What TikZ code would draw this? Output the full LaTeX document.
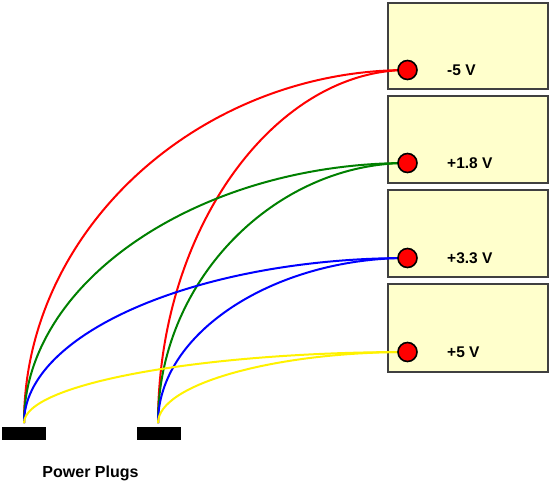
\documentclass[tikz,border=0pt]{standalone}
\usepackage{fontspec}
\setmainfont{Liberation Sans}
\definecolor{wgreen}{RGB}{0,128,0}
\definecolor{panelfill}{RGB}{255,255,204}
\definecolor{paneldraw}{RGB}{64,64,64}
\begin{document}
\begin{tikzpicture}[x=1pt,y=-1pt,
  panel/.style={draw=paneldraw,line width=1.3pt,fill=panelfill},
  term/.style={circle,draw=black,line width=1.6pt,fill=red,minimum size=19pt,inner sep=0pt},
  volt/.style={anchor=west,font=\bfseries\fontsize{15.5}{18}\selectfont,inner sep=0pt},
  plug/.style={fill=black,draw=none,minimum width=44pt,minimum height=13pt,inner sep=0pt},
  wire/.style={line width=2pt},
  captext/.style={font=\bfseries\fontsize{16}{19}\selectfont,inner sep=0pt}]
\useasboundingbox (0,0) rectangle (550,483);
% panels
\draw[panel] (388,3) rectangle (548,89);
\draw[panel] (388,96) rectangle (548,183);
\draw[panel] (388,190) rectangle (548,277);
\draw[panel] (388,284) rectangle (548,372);
% plugs
\node[plug] (plugA) at (24,433.5) {};
\node[plug] (plugB) at (159,433.5) {};
\coordinate (p1) at (24,423);
\coordinate (p2) at (158,423);
% terminals
\coordinate (c1) at (407.5,70);
\coordinate (c2) at (407.5,163);
\coordinate (c3) at (407.5,258);
\coordinate (c4) at (407.5,352);
% wires
\draw[wire,red] (p1) .. controls +(0,-195) and +(-206,0) .. (c1);
\draw[wire,red] (p2) .. controls +(0,-195) and +(-132,0) .. (c1);
\draw[wire,wgreen] (p1) .. controls +(0,-143) and +(-206,0) .. (c2);
\draw[wire,wgreen] (p2) .. controls +(0,-143) and +(-132,0) .. (c2);
\draw[wire,blue] (p1) .. controls +(0,-91) and +(-206,0) .. (c3);
\draw[wire,blue] (p2) .. controls +(0,-91) and +(-132,0) .. (c3);
\draw[wire,yellow] (p1) .. controls +(0,-39) and +(-206,0) .. (c4);
\draw[wire,yellow] (p2) .. controls +(0,-39) and +(-132,0) .. (c4);
% terminal dots on top
\node[term] (t1) at (c1) {};
\node[term] (t2) at (c2) {};
\node[term] (t3) at (c3) {};
\node[term] (t4) at (c4) {};
% labels
\node[volt] (l1) at (447,70) {-5 V};
\node[volt] (l2) at (447,163) {+1.8 V};
\node[volt] (l3) at (447,258) {+3.3 V};
\node[volt] (l4) at (447,352) {+5 V};
\node[captext,anchor=base] (title) at (90.5,477) {Power Plugs};
\end{tikzpicture}
\end{document}
